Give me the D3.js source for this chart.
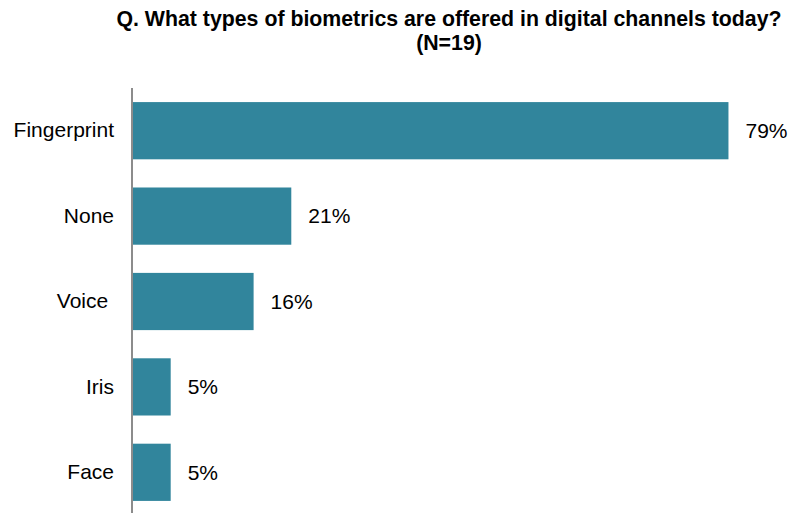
<!DOCTYPE html>
<html>
<head>
<meta charset="utf-8">
<script src="https://cdn.jsdelivr.net/npm/d3@7"></script>
<style>
  html, body { margin: 0; padding: 0; background: #fff; }
  svg { display: block; font-family: "Liberation Sans", Arial, sans-serif; }
  text { white-space: pre; }
</style>
</head>
<body>
<svg id="chart" width="792" height="513"></svg>
<script>
// Biometric types offered in digital channels (share of respondents, N=19)
const categories = ["Fingerprint", "None", "Voice ", "Iris", "Face"];
const values = [79, 21, 16, 5, 5];
const titleLines = ["Q. What types of biometrics are offered in digital channels today?", "(N=19)"];

const svg = d3.select("#chart");
const barColor = "#31859c";

const x = d3.scaleLinear().domain([0, 80]).range([133, 736]);
const y = d3.scaleBand().domain(categories).range([88, 515])
  .paddingInner(0.33).paddingOuter(0.165);

// Title
svg.append("g").selectAll("text").data(titleLines).join("text")
  .attr("x", 449)
  .attr("y", (d, i) => 26 + i * 24)
  .attr("text-anchor", "middle")
  .attr("font-weight", "bold")
  .attr("font-size", 21.3)
  .attr("fill", "#000")
  .text(d => d);

// Bars
svg.append("g").selectAll("rect").data(categories).join("rect")
  .attr("x", x(0))
  .attr("y", d => y(d))
  .attr("width", (d, i) => x(values[i]) - x(0))
  .attr("height", y.bandwidth())
  .attr("fill", barColor);

// Category axis
const axis = svg.append("g").attr("transform", `translate(${x(0) - 1},0)`)
  .call(d3.axisLeft(y).tickSize(0).tickPadding(18));
axis.select(".domain").attr("stroke", "#8c8c8c").attr("stroke-width", 2)
  .attr("d", "M0,88V513");
axis.selectAll("text")
  .attr("font-family", "Liberation Sans, Arial, sans-serif")
  .attr("font-size", 21)
  .attr("fill", "#000");

// Value labels
svg.append("g").selectAll("text").data(categories).join("text")
  .attr("x", (d, i) => x(values[i]) + 17)
  .attr("y", d => y(d) + y.bandwidth() / 2)
  .attr("dy", "0.35em")
  .attr("font-size", 21)
  .attr("fill", "#000")
  .text((d, i) => values[i] + "%");
</script>
</body>
</html>
